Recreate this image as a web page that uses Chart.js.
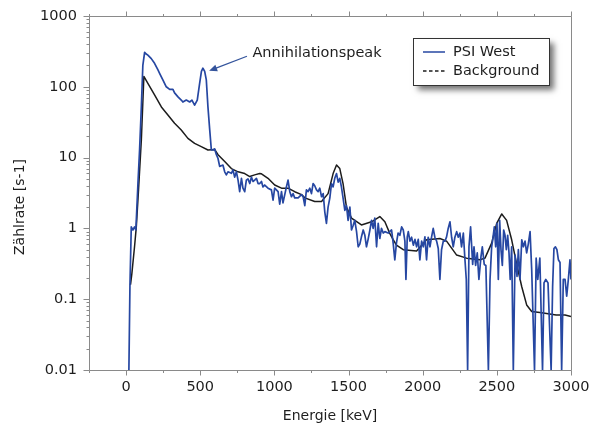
<!DOCTYPE html>
<html>
<head>
<meta charset="utf-8">
<script src="https://cdn.jsdelivr.net/npm/chart.js@4/dist/chart.umd.min.js"></script>
<style>
  html, body { margin: 0; padding: 0; background: #ffffff; }
  #wrap { position: relative; width: 595px; height: 423px; }
</style>
</head>
<body>
<div id="wrap"><canvas id="chart"></canvas></div>
<script>
// Gamma spectrum: count rate versus energy, measured site and background
const psiEnergy = [19, 26, 35, 46, 57, 66, 80, 91, 103, 113, 125, 136, 147, 170, 192, 215, 226, 248, 271, 294,
  316, 327, 350, 372, 383, 406, 429, 444, 462, 480, 496, 508, 518, 530, 541, 552, 564, 575, 586, 597,
  609, 620, 631, 653, 665, 676, 687, 710, 721, 732, 744, 755, 766, 778, 788, 800, 811, 822, 834, 845,
  856, 867, 879, 890, 901, 913, 923, 935, 957, 980, 991, 1002, 1025, 1036, 1048, 1058, 1070, 1081, 1092, 1104,
  1115, 1126, 1137, 1160, 1183, 1194, 1205, 1216, 1227, 1239, 1250, 1261, 1272, 1284, 1295, 1306, 1318, 1329, 1340, 1351,
  1362, 1374, 1385, 1396, 1407, 1419, 1430, 1441, 1452, 1463, 1475, 1486, 1497, 1509, 1520, 1531, 1542, 1554, 1565, 1576,
  1587, 1599, 1610, 1621, 1632, 1644, 1655, 1666, 1677, 1689, 1700, 1711, 1722, 1734, 1745, 1767, 1790, 1801, 1812, 1823,
  1834, 1846, 1858, 1869, 1880, 1887, 1896, 1903, 1914, 1925, 1937, 1948, 1959, 1970, 1981, 1993, 2004, 2015, 2026, 2037,
  2049, 2060, 2071, 2082, 2094, 2105, 2116, 2127, 2139, 2150, 2161, 2172, 2184, 2195, 2206, 2217, 2229, 2240, 2251, 2262,
  2274, 2285, 2294, 2303, 2312, 2323, 2337, 2346, 2357, 2368, 2379, 2393, 2402, 2415, 2426, 2443, 2454, 2465, 2472, 2483,
  2492, 2501, 2510, 2519, 2528, 2537, 2546, 2555, 2564, 2573, 2582, 2590, 2600, 2611, 2623, 2636, 2645, 2656, 2668, 2679,
  2690, 2701, 2712, 2724, 2735, 2754, 2765, 2776, 2790, 2808, 2818, 2830, 2845, 2866, 2876, 2885, 2895, 2905, 2915, 2926,
  2937, 2948, 2960, 2971, 2982, 2993, 3000];
const psiRate = [0.01, 0.15, 1.05, 0.95, 1.05, 0.95, 4.3, 12.8, 52, 200, 307, 290, 280, 250, 215, 173, 155, 125, 100, 92,
  92, 82, 72, 65, 61, 65, 61, 65, 55, 65, 112, 165, 183, 165, 125, 52, 24.6, 12.8, 12.8, 13.3,
  11.0, 9.7, 7.5, 7.85, 6.3, 5.7, 6.3, 6.0, 6.7, 5.3, 6.3, 4.8, 3.3, 5.1, 3.7, 3.3, 4.8, 5.0, 4.3, 5.3,
  4.6, 4.8, 5.1, 4.3, 4.3, 4.6, 3.85, 4.1, 3.7, 3.5, 2.5, 3.7, 3.3, 2.2, 3.3, 2.3, 3.0, 3.85, 4.8, 3.3,
  2.8, 3.1, 2.7, 2.7, 3.0, 2.8, 2.1, 3.5, 3.3, 3.7, 3.1, 4.3, 4.0, 3.5, 3.3, 3.7, 2.8, 3.1, 1.7, 1.18,
  2.0, 2.7, 4.3, 3.85, 5.1, 5.95, 4.5, 5.1, 3.85, 2.7, 1.8, 2.1, 1.3, 2.0, 0.95, 1.1, 1.3, 0.9, 0.55, 0.6,
  0.76, 0.95, 0.8, 0.55, 0.7, 0.95, 1.3, 1.0, 1.4, 0.55, 1.18, 0.72, 1.0, 0.86, 0.9, 0.86, 0.95, 0.62, 0.36, 0.62,
  0.86, 0.8, 1.05, 0.95, 0.66, 0.19, 0.76, 0.9, 0.66, 0.75, 0.58, 0.7, 0.55, 0.7, 0.36, 0.66, 0.55, 0.76, 0.36, 0.75,
  0.55, 0.76, 1.0, 0.75, 0.66, 0.52, 0.19, 0.5, 0.66, 0.66, 0.76, 1.0, 1.24, 0.75, 0.55, 0.75, 0.9, 0.75, 0.86, 0.55,
  0.86, 0.36, 0.19, 0.01, 0.55, 1.05, 0.31, 0.55, 0.3, 0.45, 0.19, 0.4, 0.55, 0.31, 0.3, 0.01, 0.19, 0.55, 0.69, 1.05,
  0.55, 1.18, 0.19, 1.3, 0.5, 0.3, 0.95, 0.8, 0.5, 0.8, 0.45, 0.19, 0.55, 0.01, 0.42, 0.21, 0.5, 0.19, 0.69, 0.55,
  0.66, 0.45, 0.6, 0.9, 0.26, 0.01, 0.38, 0.19, 0.38, 0.01, 0.17, 0.19, 0.17, 0.01, 0.15, 0.52, 0.55, 0.5, 0.36, 0.33,
  0.01, 0.19, 0.19, 0.11, 0.19, 0.36, 0.19];

const bgEnergy = [30, 39, 57, 69, 84, 103, 120, 147, 192, 238, 282, 327, 372, 417, 462, 507, 552, 597, 620, 665,
  710, 755, 800, 834, 867, 901, 913, 957, 1002, 1048, 1092, 1137, 1183, 1205, 1272, 1318, 1362, 1396, 1419, 1441,
  1463, 1486, 1520, 1587, 1655, 1711, 1745, 1778, 1800, 1823, 1869, 1959, 2026, 2116, 2161, 2229, 2296, 2386, 2420, 2465,
  2499, 2533, 2566, 2600, 2634, 2668, 2701, 2735, 2790, 2835, 2900, 2960, 3000];
const bgRate = [0.16, 0.23, 0.55, 1.05, 3.5, 17.7, 140, 112, 77, 52, 40, 30.5, 24.5, 18.7, 15.9, 14.3, 12.8, 13.0, 11, 8.8,
  7.0, 6.3, 5.95, 5.4, 5.7, 5.95, 5.9, 5.1, 4.1, 3.7, 3.7, 3.3, 3.0, 2.7, 2.4, 2.4, 3.1, 5.95, 7.85, 7.0,
  4.3, 2.0, 1.4, 1.12, 1.24, 1.47, 1.24, 0.85, 0.7, 0.58, 0.5, 0.48, 0.69, 0.72, 0.66, 0.42, 0.38, 0.36, 0.38, 0.62,
  1.18, 1.6, 1.3, 0.69, 0.31, 0.15, 0.083, 0.067, 0.065, 0.063, 0.06, 0.06, 0.057];

const xTickValues = [0, 500, 1000, 1500, 2000, 2500, 3000];
const yTickValues = [0.01, 0.1, 1, 10, 100, 1000];
const yTickLabels = ['0.01', '0.1', '1', '10', '100', '1000'];
const seriesNames = ['PSI West', 'Background'];

const FONT = 'DejaVu Sans, Verdana, sans-serif';
const TEXT = '#1e1e1e';
const AXIS = '#8a8a8a';
const BLUE = '#2647a2';
const BLACK = '#1c1c1c';

function toPoints(xs, ys) { return xs.map((x, i) => ({ x: x, y: ys[i] })); }

// Frame, tick marks, axis titles, annotation and legend
const decorations = {
  id: 'decorations',
  afterDatasetsDraw(chart) {
    const ctx = chart.ctx;
    const a = chart.chartArea;
    const xs = chart.scales.x, ys = chart.scales.y;
    const L = Math.round(a.left) + 0.5, R = Math.round(a.right) + 0.5;
    const T = Math.round(a.top) + 0.5, B = Math.round(a.bottom) + 0.5;
    ctx.save();
    ctx.strokeStyle = AXIS;
    ctx.lineWidth = 1;
    ctx.beginPath();
    ctx.rect(L, T, R - L, B - T);
    ctx.stroke();
    // log ticks on the left axis
    ctx.beginPath();
    for (let d = -2; d <= 3; d++) {
      for (let m = 1; m <= 9; m++) {
        const v = m * Math.pow(10, d);
        if (v > 1000) break;
        const py = Math.round(ys.getPixelForValue(v)) + 0.5;
        const len = m === 1 ? 6 : 3;
        ctx.moveTo(L - len, py); ctx.lineTo(L, py);
      }
    }
    // energy ticks on bottom and top axes
    for (let e = -250; e <= 3000; e += 250) {
      const px = Math.round(xs.getPixelForValue(e)) + 0.5;
      const len = e % 500 === 0 ? 5 : 2.5;
      ctx.moveTo(px, B); ctx.lineTo(px, B + len);
      ctx.moveTo(px, T); ctx.lineTo(px, T - len);
    }
    ctx.stroke();

    // axis titles
    ctx.fillStyle = TEXT;
    ctx.font = '14px ' + FONT;
    ctx.textAlign = 'center';
    ctx.textBaseline = 'middle';
    ctx.fillText('Energie [keV]', (a.left + a.right) / 2, 416);
    ctx.save();
    ctx.translate(20, 207);
    ctx.rotate(-Math.PI / 2);
    ctx.fillText('Zählrate [s-1]', 0, 0);
    ctx.restore();

    // annotation with arrow pointing at the 511 keV peak
    ctx.font = '14.5px ' + FONT;
    ctx.textAlign = 'left';
    ctx.fillText('Annihilationspeak', xs.getPixelForValue(852), ys.getPixelForValue(300));
    const x0 = xs.getPixelForValue(815), y0 = ys.getPixelForValue(270);
    const x1 = xs.getPixelForValue(560), y1 = ys.getPixelForValue(168);
    const ang = Math.atan2(y1 - y0, x1 - x0);
    ctx.strokeStyle = '#34549c';
    ctx.fillStyle = '#34549c';
    ctx.lineWidth = 1.3;
    ctx.beginPath();
    ctx.moveTo(x0, y0);
    ctx.lineTo(x1 - 6 * Math.cos(ang), y1 - 6 * Math.sin(ang));
    ctx.stroke();
    ctx.beginPath();
    ctx.moveTo(x1, y1);
    ctx.lineTo(x1 - 8 * Math.cos(ang) + 3.5 * Math.sin(ang), y1 - 8 * Math.sin(ang) - 3.5 * Math.cos(ang));
    ctx.lineTo(x1 - 8 * Math.cos(ang) - 3.5 * Math.sin(ang), y1 - 8 * Math.sin(ang) + 3.5 * Math.cos(ang));
    ctx.closePath();
    ctx.fill();

    // legend box with drop shadow
    const bx = 413.5, by = 38.5, bw = 136, bh = 47;
    ctx.save();
    ctx.shadowColor = 'rgba(0,0,0,0.55)';
    ctx.shadowBlur = 6;
    ctx.shadowOffsetX = 4;
    ctx.shadowOffsetY = 4;
    ctx.fillStyle = '#ffffff';
    ctx.fillRect(bx, by, bw, bh);
    ctx.restore();
    ctx.strokeStyle = '#333333';
    ctx.lineWidth = 1;
    ctx.strokeRect(bx, by, bw, bh);
    ctx.lineWidth = 1.5;
    ctx.strokeStyle = BLUE;
    ctx.beginPath(); ctx.moveTo(423, 52); ctx.lineTo(445, 52); ctx.stroke();
    ctx.strokeStyle = BLACK;
    ctx.setLineDash([3.5, 2.5]);
    ctx.beginPath(); ctx.moveTo(423, 71); ctx.lineTo(446, 71); ctx.stroke();
    ctx.setLineDash([]);
    ctx.fillStyle = TEXT;
    ctx.font = '14.5px ' + FONT;
    ctx.textAlign = 'left';
    ctx.fillText(seriesNames[0], 453, 52);
    ctx.fillText(seriesNames[1], 453, 71);
    ctx.restore();
  }
};

new Chart(document.getElementById('chart'), {
  type: 'line',
  data: {
    datasets: [
      { label: seriesNames[0], data: toPoints(psiEnergy, psiRate), borderColor: BLUE, borderWidth: 1.7,
        pointRadius: 0, tension: 0, borderJoinStyle: 'round', fill: false },
      { label: seriesNames[1], data: toPoints(bgEnergy, bgRate), borderColor: BLACK, borderWidth: 1.5,
        pointRadius: 0, tension: 0, borderJoinStyle: 'round', fill: false }
    ]
  },
  options: {
    responsive: true,
    maintainAspectRatio: false,
    animation: false,
    events: [],
    layout: { padding: { top: 16, right: 24, left: 0, bottom: 0 } },
    plugins: { legend: { display: false }, tooltip: { enabled: false } },
    scales: {
      x: {
        type: 'linear', min: -250, max: 3000,
        grid: { display: false, drawTicks: false },
        border: { display: false },
        afterBuildTicks: s => { s.ticks = xTickValues.map(v => ({ value: v })); },
        afterFit: s => { s.height = 53; s.paddingRight = 0; s.paddingLeft = 0; },
        ticks: { padding: 9, color: TEXT, font: { family: FONT, size: 14.5 }, maxRotation: 0, autoSkip: false,
          callback: v => String(v) }
      },
      y: {
        type: 'logarithmic', min: 0.01, max: 1000,
        grid: { display: false, drawTicks: false },
        border: { display: false },
        afterBuildTicks: s => { s.ticks = yTickValues.map(v => ({ value: v })); },
        afterFit: s => { s.width = 89; s.paddingTop = 0; s.paddingBottom = 0; },
        ticks: { padding: 12, color: TEXT, font: { family: FONT, size: 14.5 }, autoSkip: false,
          callback: v => yTickLabels[yTickValues.findIndex(t => Math.abs(t - v) / t < 1e-6)] }
      }
    }
  },
  plugins: [decorations]
});
</script>
</body>
</html>
